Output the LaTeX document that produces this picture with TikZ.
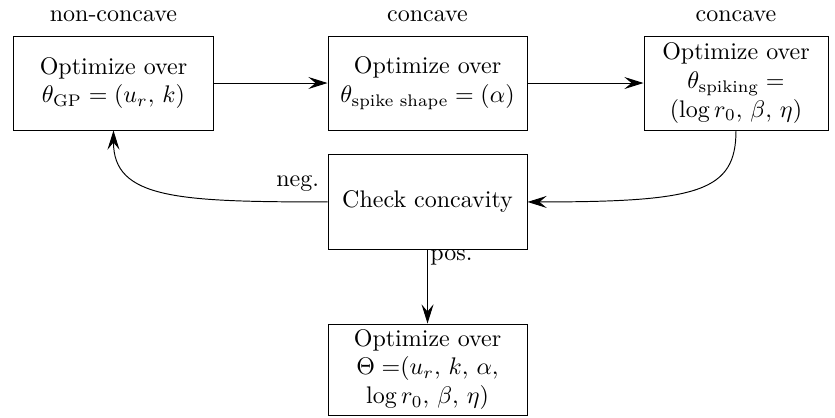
\documentclass[tikz,border=0pt]{standalone}
\usepackage{amsmath}
\usetikzlibrary{arrows.meta,positioning}

\begin{document}
\begin{tikzpicture}[
  >={Stealth[length=8pt,width=5pt,inset=3pt]},
  stage/.style={draw,align=center,minimum width=2.915cm,minimum height=1.377cm,inner sep=2pt}]
  \useasboundingbox (0,0) rectangle (12.23,6.108);
  \node[stage] (gp) at (1.662,4.892) {Optimize over\\ $\theta_{\mathrm{GP}} = (u_r,\, k)$};
  \node[stage] (shp) at (6.262,4.892) {Optimize over\\ $\theta_{\text{spike shape}} = (\alpha)$};
  \node[stage,minimum width=2.695cm] (spk) at (10.78,4.892) {Optimize over\\ $\theta_{\text{spiking}} =$\\ $(\log r_0,\, \beta,\, \eta)$};
  \node[stage,minimum height=1.4cm] (chk) at (6.262,3.15) {Check concavity};
  \node[stage,minimum height=1.333cm] (all) at (6.262,0.696) {Optimize over\\ $\Theta =${}$(u_r,\, k,\, \alpha,$\\ $\log r_0,\, \beta,\, \eta)$};
  \node[above=2pt of gp] (gpLab) {non-concave};
  \node[above=2pt of shp] (shpLab) {concave};
  \node[above=2pt of spk] (spkLab) {concave};
  \draw[->] (gp) -- (shp);
  \draw[->] (shp) -- (spk);
  \draw[->] (spk.south) .. controls +(0,-0.9) and +(2.5,0) .. (chk.east);
  \draw[->] (chk.west) node[above left,yshift=1pt] (negLab) {neg.} .. controls +(-2.2,0) and +(0,-1) .. (gp.south);
  \draw[->] (chk) -- node[pos=0.1,right,inner sep=1pt] (posLab) {pos.} (all);
\end{tikzpicture}
\end{document}
